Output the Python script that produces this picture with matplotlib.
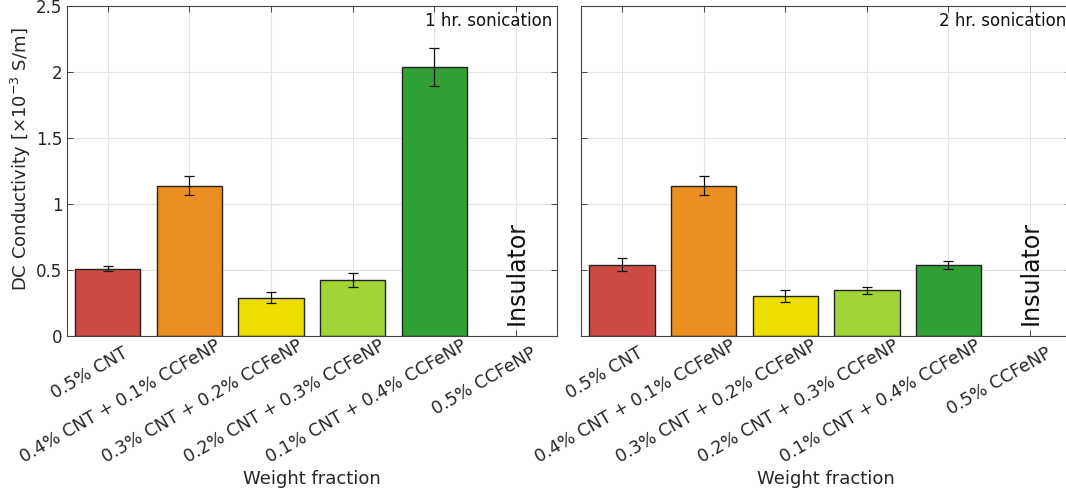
import matplotlib
matplotlib.use("Agg")
import matplotlib.pyplot as plt
import matplotlib.transforms as mtransforms
import numpy as np

categories = ["0.5% CNT", "0.4% CNT + 0.1% CCFeNP", "0.3% CNT + 0.2% CCFeNP",
              "0.2% CNT + 0.3% CCFeNP", "0.1% CNT + 0.4% CCFeNP", "0.5% CCFeNP"]
vals_1hr = [0.51, 1.14, 0.29, 0.425, 2.04]
err_1hr = [0.02, 0.07, 0.043, 0.05, 0.145]
vals_2hr = [0.54, 1.14, 0.30, 0.345, 0.54]
err_2hr = [0.05, 0.07, 0.045, 0.025, 0.03]
colors = ["#CC4C44", "#EB9020", "#EDDE00", "#A2D436", "#31A035"]
titles = ["1 hr. sonication", "2 hr. sonication"]
yticks = [0, 0.5, 1, 1.5, 2, 2.5]
ytick_labels = ["0", "0.5", "1", "1.5", "2", "2.5"]

plt.rcParams['font.family'] = ['DejaVu Sans']
W, H = 1066, 492
fig = plt.figure(figsize=(W / 100, H / 100), dpi=100)
txtc = "#262626"

axes_px = [(66.7, 557), (581, 1071)]
top_px, bot_px = 6, 336
for i, (x0, x1) in enumerate(axes_px):
    ax = fig.add_axes([x0 / W, 1 - bot_px / H, (x1 - x0) / W, (bot_px - top_px) / H])
    vals = vals_1hr if i == 0 else vals_2hr
    errs = err_1hr if i == 0 else err_2hr
    x = np.arange(1, len(vals) + 1)
    ax.bar(x, vals, width=0.8, color=colors, edgecolor="#222222", linewidth=1.0, zorder=2)
    ax.errorbar(x, vals, yerr=errs, fmt="none", ecolor="#111111", elinewidth=0.9,
                capsize=3.5, capthick=0.9, zorder=3)
    ax.set_xlim(0.5, 6.5)
    ax.set_ylim(0, 2.5)
    xt = np.arange(1, len(categories) + 1)
    ax.set_xticks(xt)
    ax.set_xticklabels([])
    for xp, cat in zip(xt, categories):
        if "+" in cat:
            dx, dy = 26, 1
        else:
            dx, dy = 15, 8
        off = mtransforms.ScaledTranslation(dx / 100, -dy / 100, fig.dpi_scale_trans)
        ax.text(xp, 0, cat, transform=ax.get_xaxis_transform() + off,
                rotation=30, ha="right", va="top", rotation_mode="anchor",
                fontsize=12.5, color=txtc, clip_on=False)
    ax.set_yticks(yticks)
    if i == 0:
        ax.set_yticklabels(ytick_labels, fontsize=12, color=txtc)
        ax.set_ylabel(r"DC Conductivity [$\times$10$^{-3}$ S/m]", fontsize=13, color=txtc)
        ax.yaxis.set_label_coords(-0.068, 0.535)
    else:
        ax.set_yticklabels([])
    ax.tick_params(direction="in", top=True, right=True, length=4, width=0.7,
                   colors="#444444", labelcolor=txtc, pad=3)
    ax.grid(True, color="#e3e3e3", linewidth=0.8, zorder=0)
    ax.set_axisbelow(True)
    for s in ax.spines.values():
        s.set_color("#444444")
        s.set_linewidth(0.8)
    ax.set_xlabel("Weight fraction", fontsize=13, color=txtc)
    ax.xaxis.set_label_coords(0.5, -0.405)
    ax.text(6.44, 2.455, titles[i], ha="right", va="top",
            fontsize=12, color="#111111")
    ax.text(6, 0.08, "Insulator", rotation=90, ha="center", va="bottom",
            fontsize=17, color="#111111")

fig.savefig("out.png", dpi=100)
